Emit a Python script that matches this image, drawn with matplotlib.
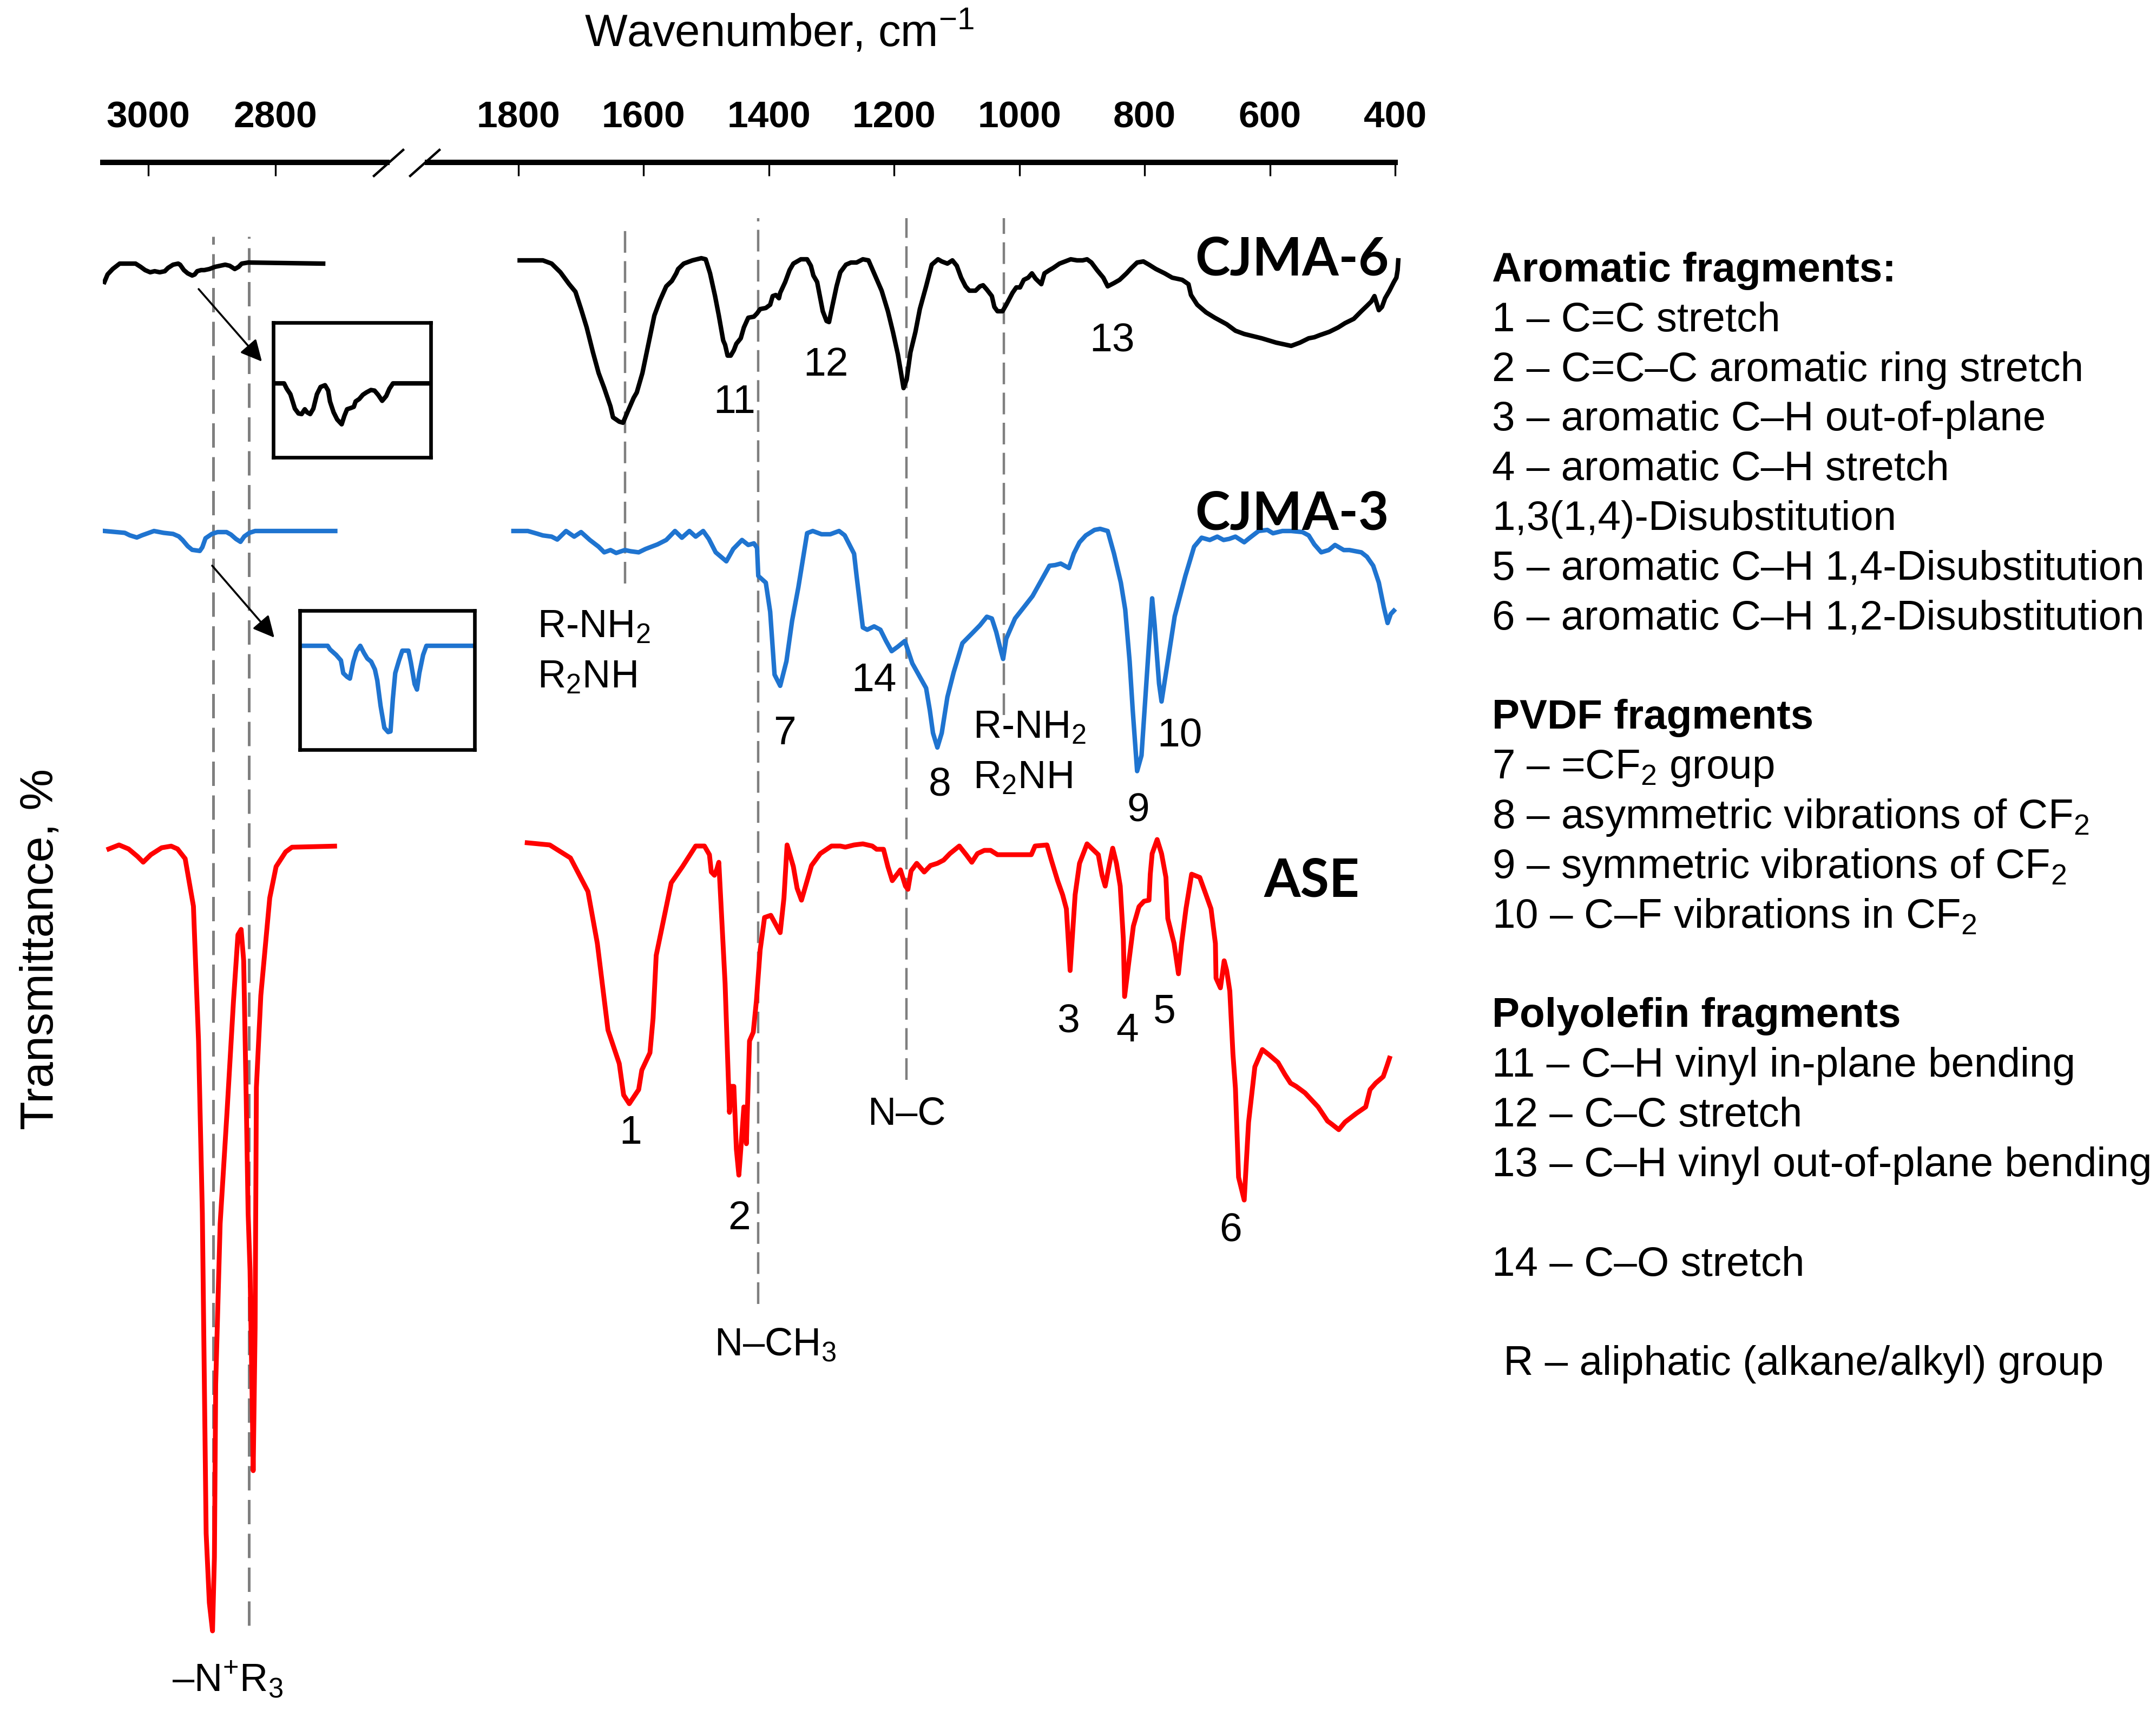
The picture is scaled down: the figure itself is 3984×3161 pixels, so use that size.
import numpy as np
import matplotlib
matplotlib.use('Agg')
import matplotlib.pyplot as plt
from matplotlib.lines import Line2D
from matplotlib.patches import FancyArrowPatch

plt.rcParams['font.family'] = ['Liberation Sans', 'DejaVu Sans']
plt.rcParams['mathtext.fontset'] = 'custom'
plt.rcParams['mathtext.rm'] = 'Liberation Sans'
plt.rcParams['mathtext.it'] = 'Liberation Sans:italic'
plt.rcParams['mathtext.bf'] = 'Liberation Sans:bold'

# ---- spectra (wavenumber, cm-1 / transmittance, %) ----
# C-H stretching region (left panel)
cjma6_ch_wn = [3069, 3064, 3056, 3045, 3020, 3012, 3005, 2997, 2990, 2982, 2974, 2969, 2961, 2953, 2950, 2944,
               2938, 2931, 2927, 2923, 2917, 2912, 2904, 2895, 2887, 2879, 2872, 2864, 2858, 2853, 2843, 2725]
cjma6_ch_t = [98.0, 98.7, 99.2, 99.7, 99.7, 99.4, 99.1, 98.9, 99.0, 98.9, 99.0, 99.3, 99.6, 99.7, 99.6, 99.1,
              98.8, 98.6, 98.7, 99.0, 99.1, 99.1, 99.2, 99.4, 99.5, 99.6, 99.5, 99.2, 99.4, 99.7, 99.8, 99.7]

cjma3_ch_wn = [3069, 3037, 3029, 3018, 3010, 2991, 2976, 2961, 2952, 2946, 2938, 2931, 2919, 2915, 2910, 2900,
               2891, 2877, 2870, 2862, 2855, 2849, 2841, 2832, 2706]
cjma3_ch_t = [100, 99.83, 99.6, 99.4, 99.6, 100, 99.83, 99.73, 99.5, 99.16, 98.6, 98.26, 98.16, 98.5, 99.33, 99.73,
              99.9, 99.9, 99.67, 99.26, 99.0, 99.5, 99.83, 100, 100]

ase_ch_wn = [3062, 3046, 3031, 3017, 3008, 2996, 2979, 2964, 2954, 2942, 2929, 2921, 2915, 2909, 2904, 2899,
             2896, 2894, 2887, 2876, 2866, 2859, 2854, 2850, 2846, 2843, 2840, 2837, 2835, 2832, 2830, 2823,
             2814, 2809, 2799, 2784, 2774, 2707]
ase_ch_t = [99.63, 100, 99.63, 98.94, 98.41, 99.1, 99.74, 99.89, 99.63, 98.73, 94.34, 81.9, 66.0, 36.4, 30.0, 27.4,
            34.2, 50.2, 65.0, 75.5, 85.6, 91.7, 92.2, 89.3, 76.6, 66.0, 60.7, 50.2, 42.2, 55.4, 77.6, 86.1,
            91.9, 95.1, 98.0, 99.36, 99.79, 99.89]

# fingerprint region (right panel)
cjma6_fp_wn = [1798, 1761, 1747, 1733, 1719, 1709, 1700, 1691, 1681, 1672, 1663, 1653, 1649, 1639, 1633, 1625,
               1616, 1611, 1602, 1592, 1583, 1574, 1564, 1555, 1548, 1545, 1536, 1522, 1508, 1501, 1494, 1486,
               1480, 1473, 1470, 1466, 1461, 1456, 1452, 1445, 1440, 1433, 1424, 1419, 1414, 1405, 1398, 1394,
               1389, 1384, 1382, 1374, 1367, 1361, 1349, 1339, 1333, 1329, 1323, 1319, 1314, 1308, 1304, 1299,
               1292, 1286, 1277, 1269, 1260, 1250, 1241, 1232, 1220, 1210, 1202, 1194, 1189, 1185, 1180, 1174,
               1166, 1159, 1149, 1140, 1130, 1124, 1115, 1107, 1100, 1093, 1086, 1080, 1070, 1063, 1058, 1052,
               1044, 1040, 1035, 1027, 1021, 1011, 1005, 999, 993, 986, 980, 974, 965, 960, 952, 946, 936, 927,
               918, 908, 899, 892, 885, 876, 866, 859, 849, 840, 829, 821, 812, 802, 793, 782, 768, 756, 740,
               730, 726, 716, 702, 688, 669, 655, 641, 613, 590, 566, 552, 538, 529, 520, 505, 491, 480, 473,
               466, 454, 445, 438, 433, 426, 421, 416, 409, 402, 398, 396, 395]
cjma6_fp_t = [100, 100, 99.7, 98.9, 97.8, 97.1, 95.5, 93.8, 91.5, 89.6, 88.2, 86.5, 85.5, 85.1, 85.0, 86.1,
              87.3, 87.8, 89.6, 92.4, 94.9, 96.3, 97.6, 98.1, 98.8, 99.2, 99.7, 100, 100.2, 100.1, 98.8, 96.7,
              94.9, 92.6, 92.2, 91.2, 91.2, 91.7, 92.3, 92.8, 93.8, 94.7, 94.8, 95.1, 95.5, 95.6, 95.9, 96.7,
              96.8, 96.5, 97.0, 98.0, 99.1, 99.7, 100.1, 100.1, 99.5, 98.6, 98.0, 96.8, 95.3, 94.4, 94.3, 95.7,
              97.6, 98.9, 99.6, 99.8, 99.8, 100.1, 100, 98.8, 97.2, 95.3, 93.4, 91.3, 89.6, 88.2, 89.0, 91.5,
              93.4, 95.5, 97.6, 99.6, 100.1, 99.9, 99.7, 100, 99.5, 98.4, 97.6, 97.2, 97.2, 97.6, 97.7, 97.3,
              96.7, 95.7, 95.3, 95.3, 95.9, 97.0, 97.5, 97.5, 98.2, 98.4, 98.8, 98.3, 97.8, 98.8, 99.1, 99.3,
              99.7, 99.9, 100.1, 100, 100, 100.1, 99.8, 99.1, 98.4, 97.6, 97.9, 98.2, 98.8, 99.3, 99.8, 99.9,
              99.6, 99.2, 98.8, 98.4, 98.2, 97.8, 96.8, 95.9, 95.2, 94.7, 94.1, 93.5, 93.2, 92.8, 92.4, 92.1,
              92.4, 92.8, 92.9, 93.1, 93.4, 93.8, 94.2, 94.4, 94.6, 95.3, 95.8, 96.2, 96.7, 95.4, 95.7, 96.5,
              97.2, 98.0, 98.4, 99.1, 100]

cjma3_fp_wn = [1808, 1785, 1770, 1761, 1747, 1738, 1724, 1711, 1700, 1686, 1672, 1663, 1653, 1644, 1630, 1621,
               1608, 1597, 1578, 1564, 1550, 1539, 1527, 1517, 1505, 1496, 1485, 1468, 1457, 1443, 1433, 1424,
               1419, 1417, 1405, 1398, 1391, 1382, 1372, 1363, 1353, 1339, 1330, 1316, 1302, 1288, 1279, 1264,
               1260, 1250, 1243, 1232, 1222, 1213, 1204, 1194, 1183, 1171, 1157, 1149, 1143, 1138, 1131, 1124,
               1115, 1105, 1091, 1077, 1063, 1052, 1044, 1037, 1029, 1026, 1021, 1007, 993, 979, 965, 952, 943,
               934, 921, 913, 904, 894, 880, 871, 859, 849, 838, 831, 824, 819, 812, 805, 799, 793, 788, 784,
               777, 773, 763, 752, 735, 721, 709, 696, 684, 674, 665, 655, 641, 632, 618, 604, 595, 580, 566,
               548, 538, 529, 518, 506, 496, 482, 473, 454, 445, 435, 426, 418, 412, 407, 402]
cjma3_fp_t = [100, 100, 99.75, 99.59, 99.48, 99.21, 100, 99.48, 99.9, 99.17, 98.55, 98.03, 98.24, 97.97, 98.24,
              98.13, 98.03, 98.34, 98.76, 99.17, 100, 99.38, 100, 99.48, 100, 99.27, 98.03, 97.2, 98.34, 99.17,
              98.71, 98.86, 98.45, 95.85, 95.23, 92.54, 86.73, 85.7, 87.98, 91.7, 94.8, 99.8, 100, 99.7, 99.7,
              100, 99.6, 97.9, 95.85, 91.09, 90.88, 91.19, 90.88, 89.84, 88.9, 89.32, 89.84, 87.77, 86.32, 85.49,
              83.42, 81.34, 80.0, 81.34, 84.66, 86.94, 89.64, 90.46, 91.29, 92.08, 91.92, 90.67, 88.81, 88.18,
              90.05, 91.92, 92.95, 93.99, 95.44, 96.79, 96.85, 96.99, 96.58, 97.93, 98.96, 99.59, 100.1, 100.2,
              100, 97.93, 95.23, 92.74, 87.98, 83.42, 77.82, 79.27, 84.45, 89.64, 93.78, 91.29, 85.9, 84.25,
              87.98, 92.12, 95.85, 98.55, 99.38, 99.17, 99.48, 99.17, 99.27, 99.48, 98.96, 99.38, 100, 100.1,
              99.79, 100, 100, 99.9, 99.59, 98.76, 98.03, 98.24, 98.71, 98.24, 98.24, 98.03, 97.62, 96.79, 95.23,
              92.95, 91.5, 92.33, 92.64]

ase_fp_wn = [1786, 1750, 1717, 1689, 1674, 1657, 1639, 1632, 1623, 1608, 1603, 1590, 1585, 1580, 1556, 1538,
             1517, 1503, 1495, 1492, 1487, 1483, 1480, 1470, 1463, 1460, 1456, 1452, 1448, 1444, 1440, 1436,
             1431, 1425, 1420, 1414, 1407, 1397, 1382, 1376, 1371, 1361, 1355, 1348, 1339, 1332, 1318, 1300,
             1286, 1278, 1264, 1250, 1235, 1228, 1217, 1210, 1203, 1190, 1182, 1178, 1173, 1164, 1152, 1142,
             1131, 1121, 1111, 1096, 1085, 1076, 1067, 1056, 1046, 1035, 1017, 999, 981, 975, 956, 949, 939,
             931, 925, 919, 911, 904, 892, 874, 868, 863, 856, 851, 845, 839, 834, 832, 825, 818, 809, 801,
             793, 791, 788, 780, 773, 766, 763, 753, 746, 741, 734, 725, 712, 702, 694, 687, 686, 679, 673,
             669, 664, 659, 655, 650, 641, 634, 624, 612, 601, 587, 576, 567, 558, 544, 523, 508, 501, 490,
             480, 462, 447, 440, 431, 419, 413, 409]
ase_fp_t = [100.2, 100.0, 98.8, 95.7, 90.9, 82.9, 79.8, 76.9, 76.1, 77.4, 79.2, 80.8, 84.0, 89.8, 96.5, 98.0,
            99.9, 99.9, 99.1, 97.5, 97.2, 97.8, 98.4, 87.2, 75.3, 77.7, 77.7, 71.9, 69.5, 72.6, 75.8, 72.4,
            81.9, 82.7, 85.6, 90.3, 93.3, 93.5, 91.9, 95.1, 100.0, 98.0, 96.0, 94.9, 96.7, 98.1, 99.2, 99.9,
            99.9, 99.8, 100.0, 100.1, 99.9, 99.6, 99.6, 98.0, 96.7, 97.7, 96.2, 95.9, 97.6, 98.3, 97.5, 98.1,
            98.3, 98.6, 99.2, 99.9, 99.1, 98.4, 99.2, 99.5, 99.5, 99.1, 99.1, 99.1, 99.1, 99.9, 100.0, 98.6, 96.7,
            95.4, 94.1, 88.4, 95.4, 98.3, 100.1, 99.1, 97.2, 96.2, 98.3, 99.7, 98.3, 96.2, 91.3, 86.0, 89.3,
            92.5, 94.3, 94.8, 94.9, 97.3, 99.2, 100.5, 99.2, 97.0, 93.2, 90.9, 88.1, 90.9, 94.1, 97.3, 97.0,
            95.4, 94.1, 90.9, 87.7, 86.8, 89.3, 88.4, 86.5, 80.7, 77.5, 69.3, 67.2, 74.4, 79.5, 81.1, 80.6,
            79.9, 78.8, 78.0, 77.7, 77.1, 75.8, 74.5, 74.2, 73.7, 74.4, 75.2, 75.8, 77.4, 78.0, 78.6, 79.6, 80.3]

# magnified C-H region shown in the two insets
inset6_wn = [3065, 3046, 3040, 3032, 3027, 3022, 3014, 3007, 3000, 2995, 2988, 2981, 2973, 2965, 2955, 2948,
             2944, 2936, 2928, 2918, 2912, 2906, 2898, 2891, 2887, 2879, 2871, 2863, 2853, 2845, 2837, 2828,
             2819, 2812, 2804, 2724]
inset6_t = [100, 100, 99.82, 99.64, 99.4, 99.16, 99.0, 98.98, 99.14, 99.04, 98.98, 99.16, 99.64, 99.88, 99.94,
            99.76, 99.4, 99.04, 98.8, 98.64, 98.92, 99.14, 99.18, 99.22, 99.4, 99.48, 99.62, 99.7, 99.78, 99.76,
            99.62, 99.42, 99.58, 99.82, 100, 100]
inset3_wn = [3068, 3011, 3006, 2993, 2983, 2978, 2970, 2964, 2957, 2950, 2942, 2934, 2927, 2919, 2911, 2906,
             2899, 2891, 2883, 2878, 2873, 2868, 2860, 2853, 2840, 2835, 2827, 2822, 2817, 2809, 2802, 2700]
inset3_t = [100, 100, 99.88, 99.7, 99.52, 99.1, 98.98, 98.92, 99.46, 99.82, 100, 99.76, 99.58, 99.48, 99.22,
            98.86, 98.02, 97.3, 97.16, 97.18, 98.26, 99.1, 99.52, 99.84, 99.84, 99.46, 98.74, 98.56, 99.1, 99.7,
            100, 100]

# vertical stacking offsets
off_ase, off_cjma3, off_cjma6 = 0, 29, 54

# dashed guide lines (wavenumber, top, bottom in stacked units)
guide_ch_wn = [2898, 2842]
guide_ch_top = [156.2, 156.2]
guide_ch_bottom = [27.35, 27.9]
guide_fp_wn = [1630, 1417, 1180, 1025]
guide_fp_top = [157.05, 157.9, 157.9, 157.9]
guide_fp_bottom = [124.15, 57.6, 78.3, 112.0]

# band numbers: text, wavenumber, baseline height
band_labels = ['1', '2', '3', '4', '5', '6', '7', '8', '9', '10', '11', '12', '13', '14']
band_wn = [1621, 1447, 922, 828, 768, 663, 1375, 1127, 810, 744, 1455, 1309, 852, 1232]
band_y = [72.4, 64.5, 82.65, 81.85, 83.55, 63.35, 109.3, 104.55, 102.2, 109.1, 139.9, 143.35, 145.55, 114.2]

legend_lines = ['Aromatic fragments:', '1 – C=C stretch', '2 – C=C–C aromatic ring stretch',
                '3 – aromatic C–H out-of-plane', '4 – aromatic C–H stretch', '1,3(1,4)-Disubstitution',
                '5 – aromatic C–H 1,4-Disubstitution', '6 – aromatic C–H 1,2-Disubstitution', '',
                'PVDF fragments', r'7 – =CF$_{\mathregular{2}}$ group',
                r'8 – asymmetric vibrations of CF$_{\mathregular{2}}$',
                r'9 – symmetric vibrations of CF$_{\mathregular{2}}$',
                r'10 – C–F vibrations in CF$_{\mathregular{2}}$', '',
                'Polyolefin fragments', '11 – C–H vinyl in-plane bending', '12 – C–C stretch',
                '13 – C–H vinyl out-of-plane bending', '', '14 – C–O stretch', '',
                ' R – aliphatic (alkane/alkyl) group']
legend_headers = [0, 9, 15]

W, H, DPI = 3984, 3161, 200


def fx(px):
    return px / W


def fy(py):
    return 1 - py / H


fig = plt.figure(figsize=(W / DPI, H / DPI), dpi=DPI)
fig.patch.set_facecolor('white')

ax_ch = fig.add_axes([fx(190), 0, (715 - 190) / W, 1 - 300 / H])
ax_fp = fig.add_axes([fx(790), 0, (2578 - 790) / W, 1 - 300 / H])

for ax, lim, ticks in ((ax_ch, (3071.5, 2624.7), [3000, 2800]),
                       (ax_fp, (1945.2, 400), list(range(1800, 399, -200)))):
    ax.set_xlim(*lim)
    ax.set_ylim(20, 163.05)
    ax.patch.set_alpha(0)
    for s in ('left', 'right', 'bottom'):
        ax.spines[s].set_visible(False)
    ax.spines['top'].set_linewidth(3.6)
    ax.xaxis.tick_top()
    ax.set_xticks(ticks)
    ax.set_yticks([])
    ax.tick_params(axis='x', direction='in', length=9, width=1.2, pad=18, labelsize=25)
    for lab in ax.get_xticklabels():
        lab.set_fontweight('bold')

dash = (0, (9, 3.5))
ax_ch.vlines(guide_ch_wn, guide_ch_bottom, guide_ch_top, colors='#7f7f7f', lw=1.8, linestyles=dash)
ax_fp.vlines(guide_fp_wn, guide_fp_bottom, guide_fp_top, colors='#7f7f7f', lw=1.6, linestyles=dash)

blue = '#1f74d0'
ax_ch.plot(cjma6_ch_wn, np.array(cjma6_ch_t) + off_cjma6, color='black', lw=3.0)
ax_ch.plot(cjma3_ch_wn, np.array(cjma3_ch_t) + off_cjma3, color=blue, lw=3.0)
ax_ch.plot(ase_ch_wn, np.array(ase_ch_t) + off_ase, color='red', lw=3.2)
ax_fp.plot(cjma6_fp_wn, np.array(cjma6_fp_t) + off_cjma6, color='black', lw=3.0, clip_on=False)
ax_fp.plot(cjma3_fp_wn, np.array(cjma3_fp_t) + off_cjma3, color=blue, lw=3.0, clip_on=False)
ax_fp.plot(ase_fp_wn, np.array(ase_fp_t) + off_ase, color='red', lw=3.2, clip_on=False)

# sample names
name_font = dict(family='Lato', fontweight='bold', fontsize=35)
ax_fp.text(410, 152.64, 'CJMA-6', ha='right', va='baseline', **name_font)
ax_fp.text(410, 129.14, 'CJMA-3', ha='right', va='baseline', **name_font)
ax_fp.text(533, 95.21, 'ASE', ha='center', va='baseline', **name_font)

for lab, w, y in zip(band_labels, band_wn, band_y):
    ax_fp.text(w, y, lab, ha='center', va='baseline', fontsize=27)

amine = [r'R-NH$_{\mathregular{2}}$', r'R$_{\mathregular{2}}$NH']
ax_fp.text(1770, 119.15, amine[0], ha='left', va='baseline', fontsize=26)
ax_fp.text(1770, 114.5, amine[1], ha='left', va='baseline', fontsize=26)
ax_fp.text(1074, 109.85, amine[0], ha='left', va='baseline', fontsize=26)
ax_fp.text(1074, 105.2, amine[1], ha='left', va='baseline', fontsize=26)
ax_fp.text(1390, 52.85, r'N–CH$_{\mathregular{3}}$', ha='center', va='baseline', fontsize=26)
ax_fp.text(1180, 74.2, 'N–C', ha='center', va='baseline', fontsize=26)
ax_ch.text(2875, 21.8, r'–N$^{\mathregular{+}}$R$_{\mathregular{3}}$', ha='center', va='baseline', fontsize=26)

# insets
ins6 = fig.add_axes([fx(505), fy(845), 291 / W, 249 / H])
ins6.plot(inset6_wn, inset6_t, color='black', lw=3.0)
ins6.set_xlim(3070, 2720)
ins6.set_ylim(97.54, 102.02)
ins3 = fig.add_axes([fx(554), fy(1385), 323 / W, 257 / H])
ins3.plot(inset3_wn, inset3_t, color=blue, lw=3.0)
ins3.set_xlim(3070, 2700)
ins3.set_ylim(96.58, 101.16)
for ins in (ins6, ins3):
    ins.set_xticks([])
    ins.set_yticks([])
    for s in ins.spines.values():
        s.set_linewidth(2.4)

for (x0, y0), (x1, y1) in [((367, 534), (484, 668)), ((392, 1045), (507, 1178))]:
    fig.add_artist(FancyArrowPatch((fx(x0), fy(y0)), (fx(x1), fy(y1)), transform=fig.transFigure,
                                   arrowstyle='-|>', mutation_scale=30, lw=1.3, color='black',
                                   shrinkA=0, shrinkB=0))

# axis break marks
for (x0, y0), (x1, y1) in [((691, 325), (745, 277)), ((758, 325), (812, 277))]:
    fig.add_artist(Line2D([fx(x0), fx(x1)], [fy(y0), fy(y1)], transform=fig.transFigure,
                          color='black', lw=1.6))

fig.text(fx(1440), fy(86), r'Wavenumber, cm$^{\mathregular{-1}}$', ha='center', va='baseline', fontsize=30)
fig.text(fx(76), fy(1753), 'Transmittance, %', rotation=90, ha='center', va='center', fontsize=31)

for i, line in enumerate(legend_lines):
    if not line:
        continue
    fig.text(fx(2757), fy(520 + i * 91.83), line, ha='left', va='baseline', fontsize=27.5,
             fontweight='bold' if i in legend_headers else 'normal')

fig.savefig('out.png', dpi=DPI, facecolor='white')
